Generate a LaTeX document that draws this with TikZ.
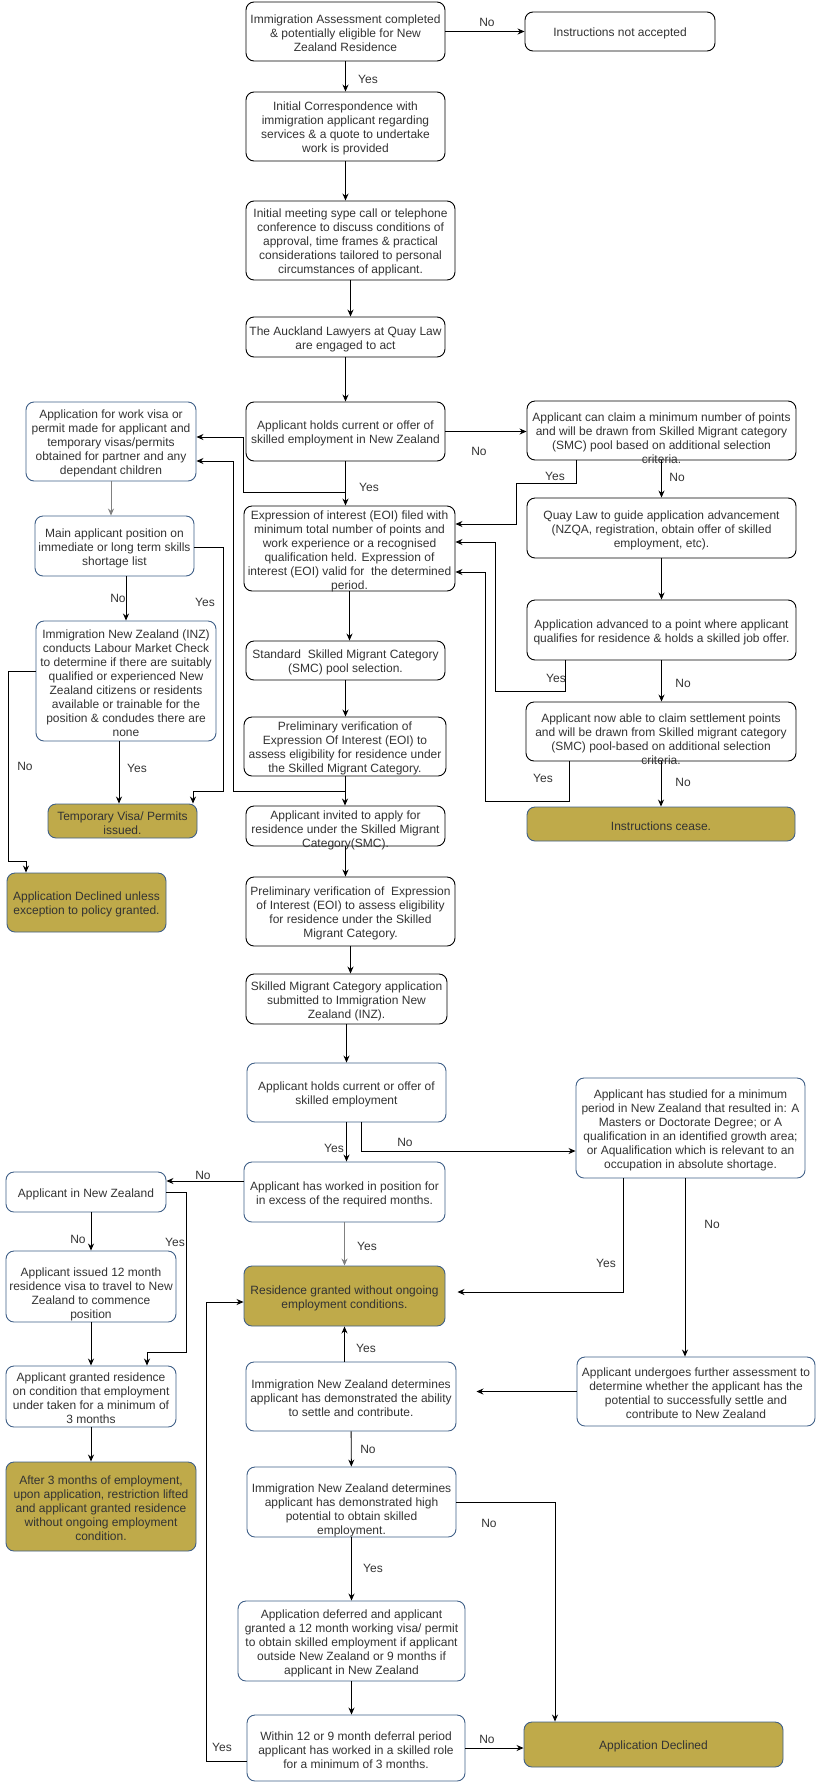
\documentclass[tikz,border=0pt]{standalone}
\usepackage{fontspec}
\setmainfont{Liberation Sans}
\usepackage{xcolor}
\usepackage{tikz}
\usetikzlibrary{arrows.meta}

\definecolor{goldfill}{HTML}{BFAA4A}
\definecolor{boxblue}{HTML}{3F5F87}
\definecolor{txtgray}{HTML}{333333}

\tikzset{
  plainbox/.style={draw=black, rounded corners=8pt, line width=0.9pt, inner sep=0pt},
  bluebox/.style={draw=boxblue, rounded corners=8pt, line width=0.9pt, inner sep=0pt},
  goldbox/.style={bluebox, fill=goldfill},
  txt/.style={align=center, font=\fontsize{12}{14}\selectfont, text=txtgray, inner sep=0pt},
  lbl/.style={font=\fontsize{12}{14}\selectfont, text=txtgray, inner sep=0pt},
  arr/.style={-{Stealth[length=7pt,width=6pt]}, line width=0.9pt},
}

% box: [text shift]{name}{style}{(x,y)}{width}{height}{text}
\newcommand{\flowbox}[7][-2]{%
  \node[#3, minimum width=#5pt, minimum height=#6pt] (#2) at #4 {};
  \node[txt] (#2-t) at ([yshift=#1pt]#2.center) {#7};}

\begin{document}
\begin{tikzpicture}[x=1pt, y=-1pt]
            \useasboundingbox (0,0) rectangle (818,1783);
            % main column
            \flowbox{assess}{plainbox}{(345.5,31.5)}{199}{59}{Immigration Assessment completed\\\& potentially eligible for New\\Zealand Residence}
            \flowbox{notacc}{plainbox}{(620,31.5)}{190}{39}{Instructions not accepted}
            \flowbox{corresp}{plainbox}{(345.5,126.5)}{199}{69}{Initial Correspondence with\\immigration applicant regarding\\services \& a quote to undertake\\work is provided}
            \flowbox{meeting}{plainbox}{(350.5,240.5)}{209}{79}{Initial meeting sype call or telephone\\conference to discuss conditions of\\approval, time frames \& practical\\considerations tailored to personal\\circumstances of applicant.}
            \flowbox{engaged}{plainbox}{(345.5,337)}{199}{40}{The Auckland Lawyers at Quay Law\\are engaged to act}
            \flowbox{holds}{plainbox}{(345.5,431.5)}{199}{59}{Applicant holds current or offer of\\skilled employment in New Zealand}
            \flowbox[-3]{eoi}{plainbox}{(349.5,548.5)}{211}{85}{Expression of interest (EOI) filed with\\minimum total number of points and\\work experience or a recognised\\qualification held. Expression of\\interest (EOI) valid for\ \ the determined\\period.}
            \flowbox{pool}{plainbox}{(345.5,660.5)}{199}{39}{Standard\ \ Skilled Migrant Category\\(SMC) pool selection.}
            \flowbox{prelimA}{plainbox}{(345,746.5)}{202}{59}{Preliminary verification of\\Expression Of Interest (EOI) to\\assess eligibility for residence under\\the Skilled Migrant Category.}
            \flowbox[-4]{invited}{plainbox}{(345.5,826)}{199}{40}{Applicant invited to apply for\\residence under the Skilled Migrant\\Category(SMC).}
            \flowbox{prelimB}{plainbox}{(350.5,911.5)}{209}{69}{Preliminary verification of\ \ Expression\\of Interest (EOI) to assess eligibility\\for residence under the Skilled\\Migrant Category.}
            \flowbox{submitted}{plainbox}{(346.5,999)}{201}{50}{Skilled Migrant Category application\\submitted to Immigration New\\Zealand (INZ).}
            % right column
            \flowbox[-8]{points}{plainbox}{(661.5,430.5)}{269}{59}{Applicant can claim a minimum number of points\\and will be drawn from Skilled Migrant category\\(SMC) pool based on additional selection\\criteria.}
            \flowbox{guide}{plainbox}{(661.5,528)}{269}{60}{Quay Law to guide application advancement\\(NZQA, registration, obtain offer of skilled\\employment, etc).}
            \flowbox{advanced}{plainbox}{(661.5,630)}{269}{60}{Application advanced to a point where applicant\\qualifies for residence \& holds a skilled job offer.}
            \flowbox[-8]{settlepts}{plainbox}{(661,731.5)}{270}{59}{Applicant now able to claim settlement points\\and will be drawn from Skilled migrant category\\(SMC) pool-based on additional selection\\criteria.}
            \flowbox{cease}{goldbox}{(661,824)}{268}{34}{Instructions cease.}
            % left column
            \flowbox{workvisa}{bluebox}{(111,441.5)}{170}{79}{Application for work visa or\\permit made for applicant and\\temporary visas/permits\\obtained for partner and any\\dependant children}
            \flowbox{shortage}{bluebox}{(114.5,546)}{159}{60}{Main applicant position on\\immediate or long term skills\\shortage list}
            \flowbox{labour}{bluebox}{(126,681)}{180}{120}{Immigration New Zealand (INZ)\\conducts Labour Market Check\\to determine if there are suitably\\qualified or experienced New\\Zealand citizens or residents\\available or trainable for the\\position \& condudes there are\\none}
            \flowbox{tempvisa}{goldbox}{(122.5,821)}{149}{34}{Temporary Visa/ Permits\\issued.}
            \flowbox{declexc}{goldbox}{(86.5,902.5)}{159}{59}{Application Declined unless\\exception to policy granted.}
            % lower part
            \flowbox{holdsB}{bluebox}{(346.5,1092.5)}{199}{59}{Applicant holds current or offer of\\skilled employment}
            \flowbox{studied}{bluebox}{(690.5,1128)}{229}{100}{Applicant has studied for a minimum\\period in New Zealand that resulted in: A\\Masters or Doctorate Degree; or A\\qualification in an identified growth area;\\or Aqualification which is relevant to an\\occupation in absolute shortage.}
            \flowbox{worked}{bluebox}{(344.5,1192)}{201}{60}{Applicant has worked in position for\\in excess of the required months.}
            \flowbox{innz}{bluebox}{(86,1192)}{160}{40}{Applicant in New Zealand}
            \flowbox[-8]{issued}{bluebox}{(91,1286.5)}{170}{71}{Applicant issued 12 month\\residence visa to travel to New\\Zealand to commence\\position}
            \flowbox{condres}{bluebox}{(91,1396.5)}{170}{61}{Applicant granted residence\\on condition that employment\\under taken for a minimum of\\3 months}
            \flowbox{lifted}{goldbox}{(101,1506.5)}{190}{89}{After 3 months of employment,\\upon application, restriction lifted\\and applicant granted residence\\without ongoing employment\\condition.}
            \flowbox{granted}{goldbox}{(344.5,1296)}{201}{60}{Residence granted without ongoing\\employment conditions.}
            \flowbox{further}{bluebox}{(696,1391.5)}{238}{69}{Applicant undergoes further assessment to\\determine whether the applicant has the\\potential to successfully settle and\\contribute to New Zealand}
            \flowbox{settle}{bluebox}{(351,1396.5)}{210}{69}{Immigration New Zealand determines\\applicant has demonstrated the ability\\to settle and contribute.}
            \flowbox[-8]{highpot}{bluebox}{(351.5,1502)}{209}{70}{Immigration New Zealand determines\\applicant has demonstrated high\\potential to obtain skilled\\employment.}
            \flowbox{deferred}{bluebox}{(351.5,1641)}{227}{80}{Application deferred and applicant\\granted a 12 month working visa/ permit\\to obtain skilled employment if applicant\\outside New Zealand or 9 months if\\applicant in New Zealand}
            \flowbox{within}{bluebox}{(356,1748)}{218}{66}{Within 12 or 9 month deferral period\\applicant has worked in a skilled role\\for a minimum of 3 months.}
            \flowbox{declined}{goldbox}{(653.5,1744.5)}{259}{45}{Application Declined}

            % connectors, upper part
            \draw[arr] (assess) -- (notacc);
            \node[lbl] (no-a) at (487,22) {No};
            \draw[arr] (assess) -- (corresp);
            \node[lbl] (yes-a) at (368,79) {Yes};
            \draw[arr] (corresp) -- (corresp |- meeting.north);
            \draw[arr] (meeting.south) -- (meeting.south |- engaged.north);
            \draw[arr] (engaged.south) -- (engaged.south |- holds.north);
            \draw[arr] (holds.east) -- (holds.east -| points.west);
            \node[lbl] (no-b) at (479,451) {No};
            \draw[arr] (holds.south) -- (holds.south |- eoi.north);
            \node[lbl] (yes-b) at (369,487) {Yes};
            \coordinate (jwork) at (345.5,492);
            \draw[arr] (jwork) -| (243,437) -- ([yshift=4.5pt]workvisa.east);
            \coordinate (jpre) at (345,791);
            \draw[arr] (jpre) -| (233,461) -- ([yshift=-19.5pt]workvisa.east);

            \draw[arr] ([xshift=-85.5pt]points.south) |- (516,483) |- ([yshift=24.5pt]eoi.east);
            \node[lbl] (yes-c) at (555,476) {Yes};
            \draw[arr] (points) -- (guide);
            \node[lbl] (no-c) at (677,477) {No};
            \draw[arr] (guide) -- (advanced);
            \draw[arr] ([xshift=-96.5pt]advanced.south) |- (495,691) |- ([yshift=6.5pt]eoi.east);
            \node[lbl] (yes-d) at (556,678) {Yes};
            \draw[arr] (advanced.south) -- (advanced.south |- settlepts.north);
            \node[lbl] (no-d) at (683,683) {No};
            \draw[arr] ([xshift=-92pt]settlepts.south) |- (485,801) |- ([yshift=-23.5pt]eoi.east);
            \node[lbl] (yes-e) at (543,778) {Yes};
            \draw[arr] (settlepts) -- (cease);
            \node[lbl] (no-e) at (683,782) {No};

            \draw[arr, draw=gray] (workvisa.south) -- (workvisa.south |- shortage.north);
            \draw[arr] (shortage.south -| labour.north) -- (labour.north);
            \node[lbl] (no-f) at (118,598) {No};
            \draw[arr] ([yshift=-1pt]shortage.east) -| (223,791) -| ([xshift=70.5pt]tempvisa.north);
            \node[lbl] (yes-f) at (205,602) {Yes};
            \draw[arr] ([xshift=-7pt]labour.south) -- ([xshift=-3.5pt]tempvisa.north);
            \node[lbl] (yes-g) at (137,768) {Yes};
            \draw[arr] ([yshift=10pt]labour.west) -| (8,861) -| ([xshift=-60.5pt]declexc.north);
            \node[lbl] (no-g) at (25,766) {No};

            \draw[arr] (eoi.south) -- (eoi.south |- pool.north);
            \draw[arr] (pool.south) -- (pool.south |- prelimA.north);
            \draw[arr] (prelimA.south) -- (prelimA.south |- invited.north);
            \draw[arr] (invited.south) -- (invited.south |- prelimB.north);
            \draw[arr] (prelimB.south) -- (prelimB.south |- submitted.north);
            \draw[arr] (submitted.south) -- (submitted.south |- holdsB.north);

            % connectors, lower part
            \draw[arr] (holdsB.south) -- (holdsB.south |- worked.north);
            \node[lbl] (yes-h) at (334,1148) {Yes};
            \draw[arr] ([xshift=14.5pt]holdsB.south) |- ([yshift=-23pt]studied.west);
            \node[lbl] (no-h) at (405,1142) {No};
            \draw[arr] ([yshift=11pt]worked.west) -- ([yshift=11pt]innz.east);
            \node[lbl] (no-i) at (203,1175) {No};
            \draw[arr] (innz.south -| issued.north) -- (issued.north);
            \node[lbl] (no-j) at (78,1239) {No};
            \draw[arr] (innz.east) -| (186,1352) -| ([xshift=56pt]condres.north);
            \node[lbl] (yes-j) at (175,1242) {Yes};
            \draw[arr] (issued) -- (condres);
            \draw[arr] (condres.south) -- (condres.south |- lifted.north);
            \draw[arr, draw=gray] (worked.south) -- (worked.south |- granted.north);
            \node[lbl] (yes-k) at (367,1246) {Yes};
            \draw[arr, shorten >=12pt] ([xshift=-67.5pt]studied.south) |- ([yshift=4pt]granted.east);
            \node[lbl] (yes-l) at (606,1263) {Yes};
            \draw[arr] ([xshift=-5.5pt]studied.south) -- ([xshift=-11pt]further.north);
            \node[lbl] (no-l) at (712,1224) {No};
            \draw[arr, shorten >=20pt] (further.west) -- (further.west -| settle.east);
            \draw[arr] (settle.north -| granted.south) -- (granted.south);
            \node[lbl] (yes-m) at (366,1348) {Yes};
            \draw[arr] (settle) -- (highpot);
            \node[lbl] (no-m) at (368,1449) {No};
            \draw[arr] (highpot.east) -| ([xshift=-98.5pt]declined.north);
            \node[lbl] (no-n) at (489,1523) {No};
            \draw[arr] (highpot) -- (deferred);
            \node[lbl] (yes-n) at (373,1568) {Yes};
            \draw[arr] (deferred.south) -- (deferred.south |- within.north);
            \draw[arr] (within.east) -- (within.east -| declined.west);
            \node[lbl] (no-o) at (487,1739) {No};
            \draw[arr] ([yshift=-13pt]within.west) -| (206,1302) -- ([yshift=-6pt]granted.west);
            \node[lbl] (yes-o) at (222,1747) {Yes};
        \end{tikzpicture}
\end{document}
